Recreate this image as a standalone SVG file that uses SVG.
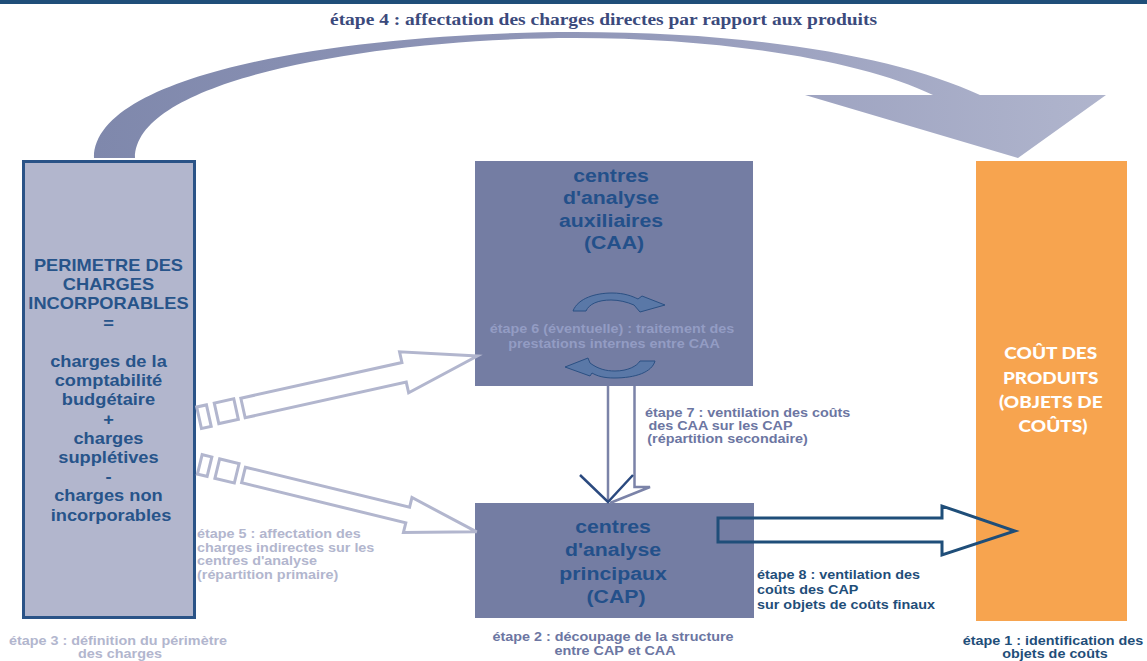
<svg xmlns="http://www.w3.org/2000/svg" width="1147" height="661" viewBox="0 0 1147 661">
  <defs>
    <linearGradient id="arcGrad" x1="0" y1="0" x2="1" y2="0">
      <stop offset="0" stop-color="#7f88ac"/>
      <stop offset="0.5" stop-color="#9298b9"/>
      <stop offset="1" stop-color="#b0b5cd"/>
    </linearGradient>
    <style>
      .sans { font-family: "Liberation Sans", Arial, sans-serif; font-weight: bold; }
      .box-txt { font-size: 16.3px; fill: #27548a; }
      .ctr-txt { font-size: 19px; fill: #23508a; }
      .small { font-size: 12.5px; }
      .pale { fill: #b2b6ce; }
      .slate { fill: #6c76a2; }
      .navy { fill: #1f4e79; }
      .inbox { fill: #939cc3; }
      .hollow-pale { fill: #ffffff; stroke: #b2b6ce; stroke-width: 3; stroke-linejoin: miter; }
      .circ { fill: #5a78a7; stroke: #2b5083; stroke-width: 1; }
    </style>
  </defs>

  <!-- top bar -->
  <rect x="0" y="0" width="1147" height="4" fill="#1f4e79"/>

  <!-- title -->
  <text x="330" y="25" textLength="547" lengthAdjust="spacingAndGlyphs" font-family="'Liberation Serif', 'Times New Roman', serif" font-weight="bold" font-size="16" fill="#3b4a7c">étape 4 : affectation des charges directes par rapport aux produits</text>

  <!-- nodes -->
  <g id="perimetre">
    <rect x="23.5" y="161.5" width="171" height="456" fill="#b2b6cd" stroke="#2a5387" stroke-width="3"/>
    <g transform="translate(111,0) scale(1.12,1)">
      <text class="sans box-txt" text-anchor="middle">
        <tspan x="0" y="271">PERIMETRE DES</tspan>
        <tspan x="0" y="290.2">CHARGES</tspan>
        <tspan x="0" y="309.4">INCORPORABLES</tspan>
        <tspan x="0" y="328.6">=</tspan>
        <tspan x="0" y="367">charges de la</tspan>
        <tspan x="0" y="386.2">comptabilité</tspan>
        <tspan x="0" y="405.4">budgétaire</tspan>
        <tspan x="0" y="424.6">+</tspan>
        <tspan x="0" y="443.8">charges</tspan>
        <tspan x="0" y="463">supplétives</tspan>
        <tspan x="0" y="482.2">-</tspan>
        <tspan x="0" y="501.4">charges non</tspan>
        <tspan x="0" y="520.6">incorporables</tspan>
      </text>
    </g>
  </g>

  <g id="caa">
    <rect x="475" y="161" width="278" height="225" fill="#747da3"/>
    <g transform="translate(614,0) scale(1.12,1)">
      <text class="sans ctr-txt" text-anchor="middle">
        <tspan x="0" y="182">centres</tspan>
        <tspan x="0" y="204.5">d'analyse</tspan>
        <tspan x="0" y="227">auxiliaires</tspan>
        <tspan x="0" y="249.5">(CAA)</tspan>
      </text>
    </g>
    <path class="circ" d="M573,311 C578,298 596,293 612,293 C624,293 632,296 638,299 L642,296 L665,305 L640,312 L634,305 C627,302 619,300 611,300 C598,300 589,304 586,311 Z"/>
    <path class="circ" d="M565,367 L588,358 L590,363 C598,369 606,371 615,371 C628,371 637,366 640,361 L655,361 C652,372 636,378 614,378 C604,378 597,376 592,373 L590,376 Z"/>
    <g transform="translate(614,0) scale(1.15,1)">
      <text class="sans small inbox" text-anchor="middle">
        <tspan x="0" y="333">étape 6  (éventuelle) : traitement des</tspan>
        <tspan x="0" y="348">prestations internes entre CAA</tspan>
      </text>
    </g>
  </g>

  <g id="cap">
    <rect x="475" y="503" width="279" height="115" fill="#747da3"/>
    <g transform="translate(616,0) scale(1.12,1)">
      <text class="sans ctr-txt" text-anchor="middle">
        <tspan x="0" y="533">centres</tspan>
        <tspan x="0" y="556.5">d'analyse</tspan>
        <tspan x="0" y="580">principaux</tspan>
        <tspan x="0" y="603.5">(CAP)</tspan>
      </text>
    </g>
  </g>

  <g id="cout-produits">
    <rect x="976" y="161" width="151" height="460" fill="#f7a44f"/>
    <g transform="translate(1053,0) scale(1.15,1)">
      <text font-family="Lato, 'Open Sans', sans-serif" font-weight="900" font-size="16.5" fill="#ffffff" text-anchor="middle">
        <tspan x="0" y="359">COÛT DES</tspan>
        <tspan x="0" y="384">PRODUITS</tspan>
        <tspan x="0" y="408">(OBJETS DE</tspan>
        <tspan x="0" y="432">COÛTS)</tspan>
      </text>
    </g>
  </g>

  <!-- connectors -->
  <g id="connectors">
    <!-- step 4 curved arrow -->
    <path d="M94,158 C94,70 360,32 575,32 C760,32 900,58 980,95 L1106,95 L1018,158 L805,95 L933,95 C860,60 720,38 575,38 C380,38 135,78 135,158 Z" fill="url(#arcGrad)"/>

    <!-- step 5 upper arrow -->
    <g transform="translate(243,408) rotate(-12.5)">
      <polygon class="hollow-pale" points="0,-10 165,-10 165,-21 240,0 165,21 165,10 0,10"/>
      <rect class="hollow-pale" x="-27" y="-11" width="20" height="21"/>
      <rect class="hollow-pale" x="-45" y="-11" width="10" height="22"/>
    </g>
    <!-- step 5 lower arrow -->
    <g transform="translate(243.5,475) rotate(13.7)">
      <polygon class="hollow-pale" points="0,-8 169,-8 169,-18 240,0 169,18 169,8 0,8"/>
      <rect class="hollow-pale" x="-27" y="-10" width="20" height="20"/>
      <rect class="hollow-pale" x="-45" y="-10" width="10" height="20"/>
    </g>

    <!-- step 7 vertical arrow -->
    <path d="M608,386 V501 M634.5,386 V487 H650 L610,503" fill="none" stroke="#7b83a8" stroke-width="2.5"/>
    <path d="M580,475 L608,502 L633,475" fill="none" stroke="#2b4a7f" stroke-width="2.5"/>

    <!-- step 8 arrow -->
    <polygon points="718,518 942,518 942,506 1015,531 942,555 942,542 718,542" fill="none" stroke="#1f4e79" stroke-width="3"/>
  </g>

  <!-- step labels -->
  <g id="labels" class="sans small">
    <g transform="translate(645,0) scale(1.15,1)">
      <text class="slate">
        <tspan x="0" y="417">étape 7 :  ventilation des coûts</tspan>
        <tspan x="3" y="430">des CAA sur les CAP</tspan>
        <tspan x="2" y="443">(répartition secondaire)</tspan>
      </text>
    </g>
    <g transform="translate(197,0) scale(1.15,1)">
      <text class="pale">
        <tspan x="0" y="538">étape 5 : affectation des</tspan>
        <tspan x="0" y="552">charges indirectes sur les</tspan>
        <tspan x="0" y="565.5">centres d'analyse</tspan>
        <tspan x="0" y="579">(répartition primaire)</tspan>
      </text>
    </g>
    <g transform="translate(757,0) scale(1.15,1)">
      <text class="navy">
        <tspan x="0" y="579">étape 8 : ventilation des</tspan>
        <tspan x="0" y="594">coûts des CAP</tspan>
        <tspan x="0" y="609">sur objets de coûts finaux</tspan>
      </text>
    </g>
    <g transform="translate(120,0) scale(1.15,1)">
      <text class="pale" text-anchor="middle">
        <tspan x="0" y="645">étape 3 : définition du périmètre</tspan>
        <tspan x="0" y="658">des charges</tspan>
      </text>
    </g>
    <g transform="translate(615,0) scale(1.15,1)">
      <text class="slate" text-anchor="middle">
        <tspan x="0" y="641.5">étape 2 : découpage de la structure</tspan>
        <tspan x="0" y="655.5">entre CAP et CAA</tspan>
      </text>
    </g>
    <g transform="translate(1055,0) scale(1.15,1)">
      <text class="navy" text-anchor="middle">
        <tspan x="0" y="645">étape 1 : identification des</tspan>
        <tspan x="0" y="658">objets de coûts</tspan>
      </text>
    </g>
  </g>
</svg>
